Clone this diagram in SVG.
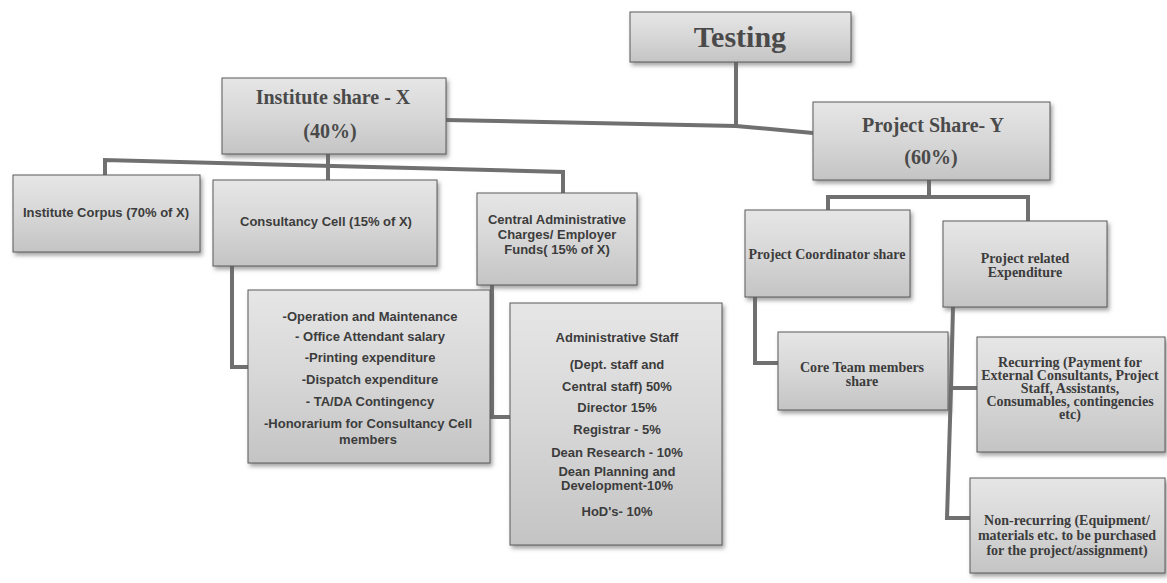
<svg xmlns="http://www.w3.org/2000/svg" width="1167" height="583" viewBox="0 0 1167 583">
<defs>
<linearGradient id="boxg" x1="0" y1="0" x2="0" y2="1">
<stop offset="0" stop-color="#e6e6e6"/>
<stop offset="0.5" stop-color="#d7d7d7"/>
<stop offset="1" stop-color="#c4c4c4"/>
</linearGradient>
<filter id="sh" x="-10%" y="-10%" width="125%" height="130%">
<feDropShadow dx="2" dy="3" stdDeviation="2" flood-color="#666" flood-opacity="0.6"/>
</filter>
</defs>
<style>
.box{fill:url(#boxg);stroke:#5a5a5a;stroke-width:1;filter:url(#sh)}
.con{fill:none;stroke:#707070;stroke-width:4;stroke-linejoin:miter}
.ttl{font-family:"Liberation Serif",serif;font-weight:bold;fill:#4a4a4a;text-anchor:middle}
.ss{font-family:"Liberation Sans",Arial,sans-serif;font-weight:bold;font-size:13px;fill:#3c3c3c;text-anchor:middle}
.sf{font-family:"Liberation Serif",serif;font-weight:bold;font-size:14px;fill:#3c3c3c;text-anchor:middle}
</style>
<rect width="1167" height="583" fill="#ffffff"/>

<g id="connectors">
<polyline class="con" points="736,62 736,128"/>
<polyline class="con" points="446,120 736,126 813,133"/>
<polyline class="con" points="328,154 328,180"/>
<polyline class="con" points="105,175 105,160 563,172 563,193"/>
<polyline class="con" points="929,180 929,197"/>
<polyline class="con" points="828,210 828,197 1028,197 1028,221"/>
<polyline class="con" points="232,266 232,367 248,367"/>
<polyline class="con" points="492,285 492,417 510,417"/>
<polyline class="con" points="755,297 755,363 778,363"/>
<polyline class="con" points="953,307 951,388 977,388"/>
<polyline class="con" points="951,388 947,518 970,518"/>
</g>

<g id="testing">
<rect class="box" x="630" y="12" width="221" height="50"/>
<text class="ttl" x="740" y="47" font-size="30">Testing</text>
</g>

<g id="institute-share">
<rect class="box" x="222" y="78" width="224" height="76"/>
<text class="ttl" x="333" y="104" font-size="20">Institute share - X</text>
<text class="ttl" x="330" y="138" font-size="20">(40%)</text>
</g>

<g id="project-share">
<rect class="box" x="813" y="102" width="237" height="78"/>
<text class="ttl" x="933" y="132" font-size="20">Project Share- Y</text>
<text class="ttl" x="931" y="164" font-size="20">(60%)</text>
</g>

<g id="institute-corpus">
<rect class="box" x="13" y="175" width="187" height="77"/>
<text class="ss" x="106" y="217">Institute Corpus (70% of X)</text>
</g>

<g id="consultancy-cell">
<rect class="box" x="213" y="180" width="224" height="86"/>
<text class="ss" x="326" y="226">Consultancy Cell (15% of X)</text>
</g>

<g id="central-admin">
<rect class="box" x="477" y="193" width="160" height="92"/>
<text class="ss" x="557" y="224">Central Administrative</text>
<text class="ss" x="557" y="239">Charges/ Employer</text>
<text class="ss" x="557" y="254">Funds( 15% of X)</text>
</g>

<g id="operation">
<rect class="box" x="248" y="290" width="242" height="173"/>
<text class="ss" x="370" y="321">-Operation and Maintenance</text>
<text class="ss" x="370" y="341">- Office Attendant salary</text>
<text class="ss" x="370" y="362">-Printing expenditure</text>
<text class="ss" x="370" y="384">-Dispatch expenditure</text>
<text class="ss" x="370" y="406">- TA/DA Contingency</text>
<text class="ss" x="368" y="428">-Honorarium for Consultancy Cell</text>
<text class="ss" x="368" y="444">members</text>
</g>

<g id="admin-staff">
<rect class="box" x="510" y="303" width="212" height="242"/>
<text class="ss" x="617" y="342">Administrative Staff</text>
<text class="ss" x="617" y="369">(Dept. staff and</text>
<text class="ss" x="617" y="391">Central staff) 50%</text>
<text class="ss" x="617" y="412">Director 15%</text>
<text class="ss" x="617" y="434">Registrar - 5%</text>
<text class="ss" x="617" y="457">Dean Research - 10%</text>
<text class="ss" x="617" y="476">Dean Planning and</text>
<text class="ss" x="617" y="490">Development-10%</text>
<text class="ss" x="617" y="516">HoD's- 10%</text>
</g>

<g id="project-coordinator">
<rect class="box" x="745" y="210" width="165" height="87"/>
<text class="sf" x="827" y="259">Project Coordinator share</text>
</g>

<g id="project-related">
<rect class="box" x="943" y="221" width="164" height="86"/>
<text class="sf" x="1025" y="263">Project related</text>
<text class="sf" x="1025" y="277">Expenditure</text>
</g>

<g id="core-team">
<rect class="box" x="778" y="332" width="170" height="78"/>
<text class="sf" x="862" y="372">Core Team members</text>
<text class="sf" x="862" y="386">share</text>
</g>

<g id="recurring">
<rect class="box" x="977" y="337" width="188" height="115"/>
<text class="sf" x="1070" y="367" font-size="13.5">Recurring (Payment for</text>
<text class="sf" x="1070" y="380" font-size="13.5">External Consultants, Project</text>
<text class="sf" x="1070" y="393" font-size="13.5">Staff, Assistants,</text>
<text class="sf" x="1070" y="406" font-size="13.5">Consumables, contingencies</text>
<text class="sf" x="1070" y="419" font-size="13.5">etc)</text>
</g>

<g id="non-recurring">
<rect class="box" x="970" y="478" width="195" height="95"/>
<text class="sf" x="1067" y="525">Non-recurring (Equipment/</text>
<text class="sf" x="1067" y="540">materials etc. to be purchased</text>
<text class="sf" x="1067" y="555">for the project/assignment)</text>
</g>
</svg>
